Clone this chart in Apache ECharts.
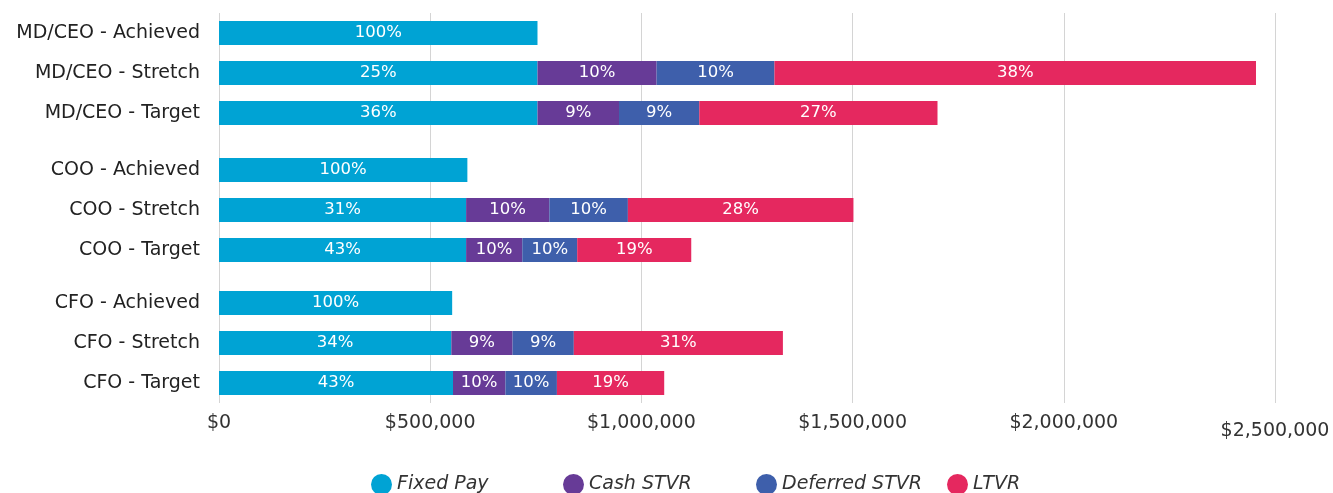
<!DOCTYPE html>
<html>
<head>
<meta charset="utf-8">
<script src="https://cdn.jsdelivr.net/npm/echarts@6/dist/echarts.min.js"></script>
<style>
  html, body { margin: 0; padding: 0; background: #fff; }
  #chart { width: 1333px; height: 493px; }
</style>
</head>
<body>
<div id="chart"></div>
<script>
// 数据
var categories = [
    'MD/CEO - Achieved', 'MD/CEO - Stretch', 'MD/CEO - Target',
    'COO - Achieved', 'COO - Stretch', 'COO - Target',
    'CFO - Achieved', 'CFO - Stretch', 'CFO - Target'
];
var fixedPay     = [754000, 754000, 754000, 588000, 585000, 585000, 552000, 550000, 554000];
var cashStvr     = [0, 282000, 193000, 0, 197000, 133000, 0, 145000, 124000];
var deferredStvr = [0, 279000, 190000, 0, 186000, 130000, 0, 145000, 122000];
var ltvr         = [0, 1140000, 564000, 0, 534000, 270000, 0, 495000, 254000];

var fixedPct    = ['100%', '25%', '36%', '100%', '31%', '43%', '100%', '34%', '43%'];
var cashPct     = ['', '10%', '9%', '', '10%', '10%', '', '9%', '10%'];
var deferredPct = ['', '10%', '9%', '', '10%', '10%', '', '9%', '10%'];
var ltvrPct     = ['', '38%', '27%', '', '28%', '19%', '', '31%', '19%'];

var seriesNames = ['Fixed Pay', 'Cash STVR', 'Deferred STVR', 'LTVR'];
var seriesColors = ['#00a3d4', '#673b97', '#3e5fab', '#e5285f'];
var xMax = 2500000;
var xStep = 500000;

var FONT = '"DejaVu Sans", sans-serif';
var groupTops = [13, 150, 283];

var chart = echarts.init(document.getElementById('chart'));

var grids = [], xAxes = [], yAxes = [], series = [];
var values = [fixedPay, cashStvr, deferredStvr, ltvr];
var pcts = [fixedPct, cashPct, deferredPct, ltvrPct];

groupTops.forEach(function (top, g) {
    grids.push({ left: 219, right: 58, top: top, height: 120 });
    xAxes.push({ gridIndex: g, type: 'value', min: 0, max: xMax, show: false });
    yAxes.push({
        gridIndex: g,
        type: 'category',
        inverse: true,
        data: categories.slice(g * 3, g * 3 + 3),
        axisLine: { show: false },
        axisTick: { show: false },
        axisLabel: { fontFamily: FONT, fontSize: 19, color: '#222', margin: 19 }
    });
    values.forEach(function (arr, s) {
        var lbl = pcts[s].slice(g * 3, g * 3 + 3);
        series.push({
            name: seriesNames[s],
            type: 'bar',
            stack: 'g' + g,
            xAxisIndex: g,
            yAxisIndex: g,
            barWidth: 24,
            itemStyle: { color: seriesColors[s] },
            label: {
                show: true,
                position: 'inside',
                color: '#fff',
                fontFamily: FONT,
                fontSize: 16.5,
                formatter: function (p) { return lbl[p.dataIndex]; }
            },
            data: arr.slice(g * 3, g * 3 + 3).map(function (v) { return v || null; })
        });
    });
});

// 背景网格和底部刻度
grids.push({ left: 219, right: 58, top: 13, height: 390 });
xAxes.push({
    gridIndex: 3,
    type: 'value',
    min: 0,
    max: xMax,
    interval: xStep,
    axisLine: { show: false },
    axisTick: { show: false },
    splitLine: { show: true, lineStyle: { color: '#d4d4d4', width: 1 } },
    axisLabel: {
        fontFamily: FONT,
        fontSize: 19,
        color: '#333',
        margin: 11,
        formatter: function (v) {
            var s = '$' + v.toLocaleString('en-US');
            return v === xMax ? '{low|' + s + '}' : s;
        },
        rich: { low: { fontFamily: FONT, fontSize: 19, color: '#333', padding: [8, 0, 0, 0] } }
    }
});
yAxes.push({ gridIndex: 3, type: 'value', show: false, min: 0, max: 1 });

var legendLefts = [366, 558, 751, 942];
var legends = seriesNames.map(function (name, i) {
    return {
        data: [name],
        left: legendLefts[i],
        top: 469,
        icon: 'circle',
        itemWidth: 21,
        itemHeight: 21,
        textStyle: { fontFamily: FONT, fontSize: 19, fontStyle: 'italic', color: '#333' }
    };
});

chart.setOption({
    animation: false,
    grid: grids,
    xAxis: xAxes,
    yAxis: yAxes,
    legend: legends,
    series: series
});
</script>
</body>
</html>
